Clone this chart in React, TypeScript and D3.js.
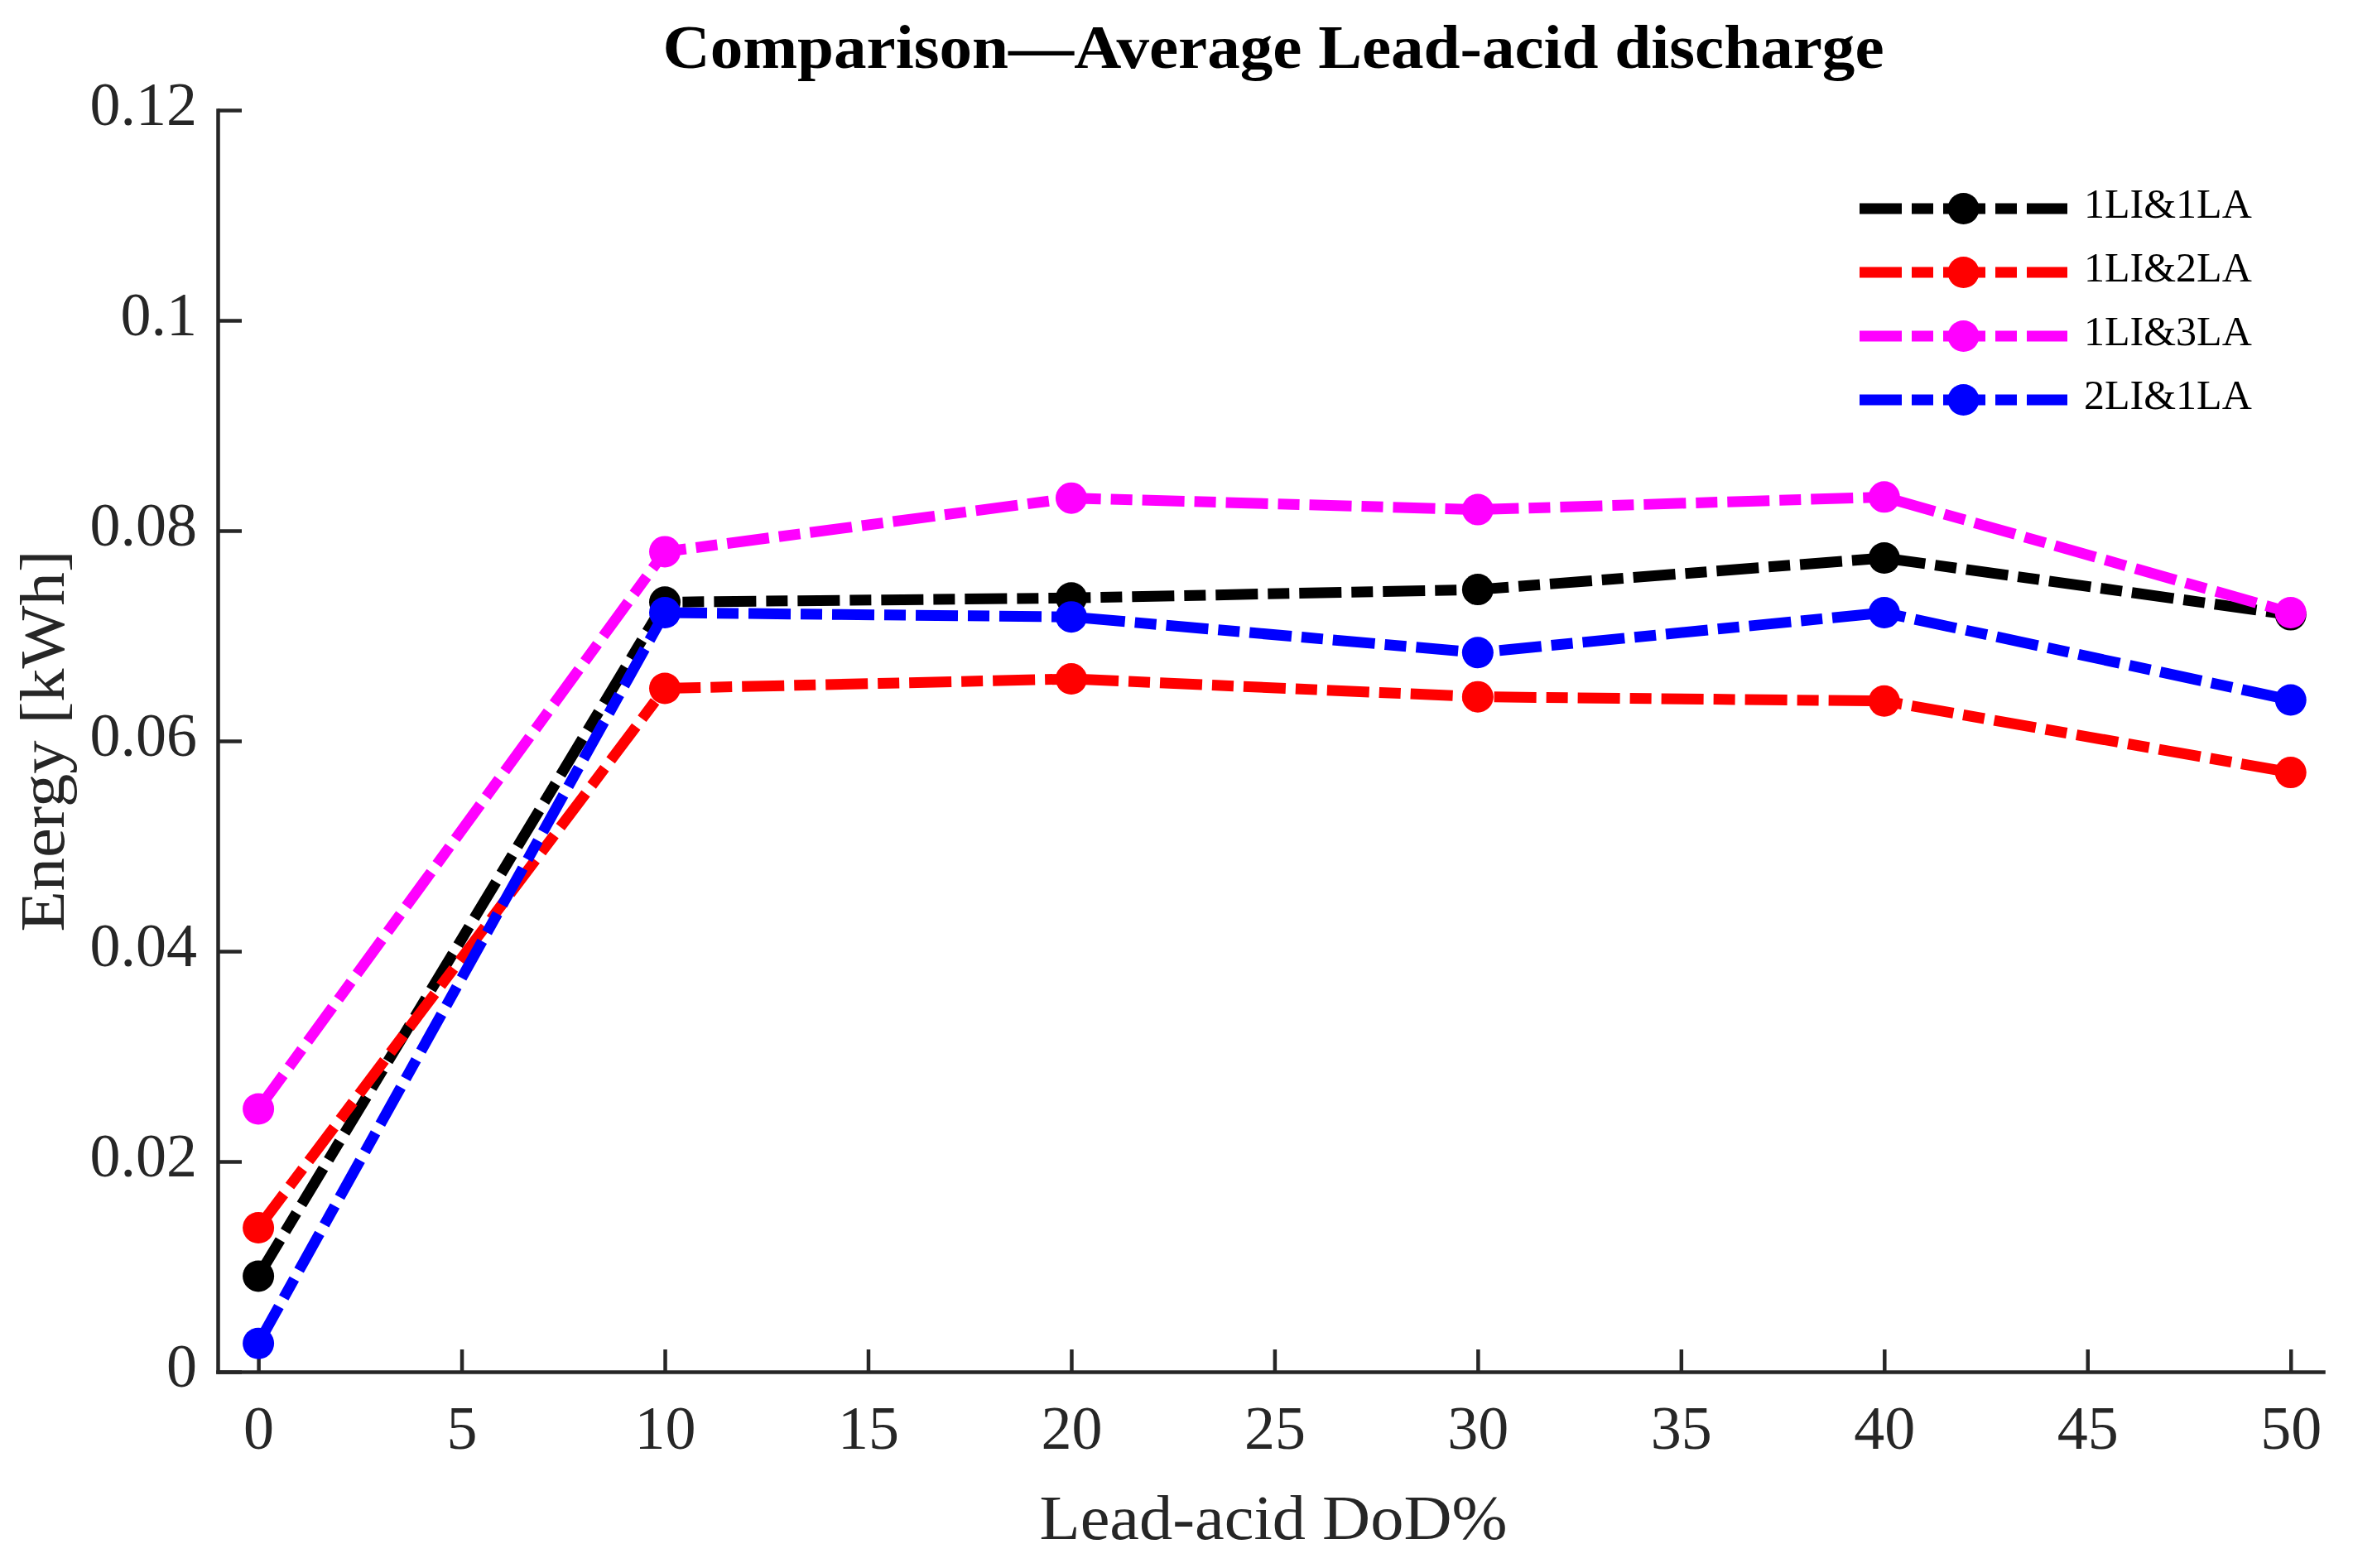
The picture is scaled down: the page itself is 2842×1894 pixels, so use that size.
import { useEffect, useRef } from "react";
import * as d3 from "d3";

// Lead-acid DoD% (x) and average discharged energy [kWh] per configuration
const dod = [0, 10, 20, 30, 40, 50];
const seriesNames = ["1LI&1LA", "1LI&2LA", "1LI&3LA", "2LI&1LA"];
const seriesColors = ["#000000", "#ff0000", "#ff00ff", "#0000ff"];
const energy1LI1LA = [0.0091, 0.0732, 0.0736, 0.0744, 0.0774, 0.0720];
const energy1LI2LA = [0.0137, 0.0650, 0.0659, 0.0642, 0.0638, 0.0570];
const energy1LI3LA = [0.0250, 0.0780, 0.0831, 0.0820, 0.0832, 0.0722];
const energy2LI1LA = [0.0027, 0.0722, 0.0718, 0.0684, 0.0722, 0.0639];
const xTicks = [0, 5, 10, 15, 20, 25, 30, 35, 40, 45, 50];
const yTicks = [0, 0.02, 0.04, 0.06, 0.08, 0.1, 0.12];

const W = 2842;
const H = 1894;
const margin = { top: 133, right: 36, bottom: 237, left: 263 };
const FONT = "'Liberation Serif', 'Times New Roman', serif";
const AXIS_COLOR = "#262626";
const DASH = "51 12 26 12";

export default function App() {
  const xAxisRef = useRef<SVGGElement>(null);
  const yAxisRef = useRef<SVGGElement>(null);

  const x = d3.scaleLinear().domain([-1, 50.8]).range([margin.left, W - margin.right]);
  const y = d3.scaleLinear().domain([0, 0.12]).range([H - margin.bottom, margin.top]);

  const allSeries = [energy1LI1LA, energy1LI2LA, energy1LI3LA, energy2LI1LA];

  const line = d3
    .line<number>()
    .x((d, i) => x(dod[i]))
    .y((d) => y(d));

  useEffect(() => {
    if (!xAxisRef.current || !yAxisRef.current) return;

    const xAxis = d3.axisBottom(x).tickValues(xTicks).tickSizeInner(-27).tickSizeOuter(0).tickPadding(0);
    const gx = d3.select(xAxisRef.current).call(xAxis);
    gx.select(".domain").attr("stroke", AXIS_COLOR).attr("stroke-width", 4.5).attr("stroke-linecap", "square");
    gx.selectAll(".tick line").attr("stroke", AXIS_COLOR).attr("stroke-width", 4.5);
    gx.selectAll(".tick text")
      .attr("y", 93)
      .attr("dy", null)
      .attr("fill", AXIS_COLOR)
      .attr("font-size", 74)
      .attr("font-family", FONT);

    const yAxis = d3
      .axisLeft(y)
      .tickValues(yTicks)
      .tickSizeInner(-29)
      .tickSizeOuter(0)
      .tickPadding(25)
      .tickFormat((d) => String(+(+d).toFixed(2)));
    const gy = d3.select(yAxisRef.current).call(yAxis);
    gy.select(".domain").attr("stroke", AXIS_COLOR).attr("stroke-width", 4.5).attr("stroke-linecap", "square");
    gy.selectAll(".tick line").attr("stroke", AXIS_COLOR).attr("stroke-width", 4.5);
    gy.selectAll(".tick text")
      .attr("dy", 17)
      .attr("fill", AXIS_COLOR)
      .attr("font-size", 74)
      .attr("font-family", FONT);
  }, []);

  const legendX0 = 2246;
  const legendX1 = 2497;
  const legendY0 = 252;
  const legendStep = 77;
  const cx = 1538;

  return (
    <svg
      width={W}
      height={H}
      style={{ position: "absolute", left: 0, top: 0, display: "block", background: "#fff" }}
    >
      <rect width={W} height={H} fill="#fff" />
      <text
        x={cx}
        y={82}
        textAnchor="middle"
        fontFamily={FONT}
        fontWeight="bold"
        fontSize={74}
        textLength={1475}
        lengthAdjust="spacingAndGlyphs"
        fill="#000"
      >
        Comparison—Average Lead-acid discharge
      </text>

      <g ref={xAxisRef} transform={`translate(0,${H - margin.bottom})`} />
      <g ref={yAxisRef} transform={`translate(${margin.left},0)`} />

      {allSeries.map((s, k) => (
        <g key={seriesNames[k]}>
          <path
            d={line(s) ?? ""}
            fill="none"
            stroke={seriesColors[k]}
            strokeWidth={13}
            strokeDasharray={DASH}
            strokeLinecap="butt"
            strokeLinejoin="miter"
          />
          {s.map((v, i) => (
            <circle key={i} cx={x(dod[i])} cy={y(v)} r={19} fill={seriesColors[k]} />
          ))}
        </g>
      ))}

      <text
        x={cx}
        y={1859}
        textAnchor="middle"
        fontFamily={FONT}
        fontSize={76}
        textLength={565}
        lengthAdjust="spacingAndGlyphs"
        fill={AXIS_COLOR}
      >
        Lead-acid DoD%
      </text>
      <text
        transform={`translate(77,${(y(0) + y(0.12)) / 2}) rotate(-90)`}
        textAnchor="middle"
        fontFamily={FONT}
        fontSize={76}
        textLength={461}
        lengthAdjust="spacingAndGlyphs"
        fill={AXIS_COLOR}
      >
        Energy [kWh]
      </text>

      {seriesNames.map((name, k) => {
        const ly = legendY0 + k * legendStep;
        return (
          <g key={name}>
            <line
              x1={legendX0}
              x2={legendX1}
              y1={ly}
              y2={ly}
              stroke={seriesColors[k]}
              strokeWidth={13}
              strokeDasharray={DASH}
            />
            <circle cx={(legendX0 + legendX1) / 2} cy={ly} r={19} fill={seriesColors[k]} />
            <text x={2517} y={ly + 11} fontFamily={FONT} fontSize={50} fill="#000">
              {name}
            </text>
          </g>
        );
      })}
    </svg>
  );
}
